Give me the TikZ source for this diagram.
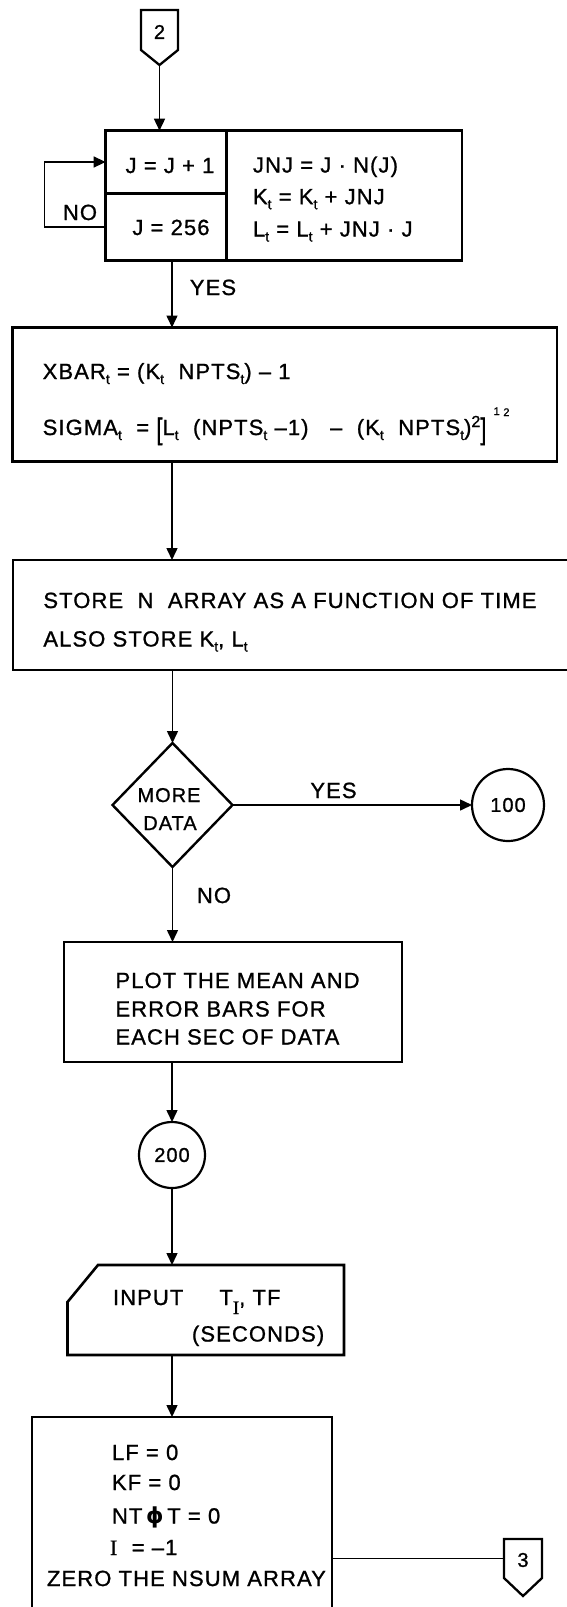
\documentclass[tikz,border=0pt]{standalone}
\usepackage{graphicx}
\usepackage{fontspec}
\setmainfont{Liberation Sans}[LetterSpace=5,FakeBold=1]
\newfontfamily\serifI{Liberation Serif}[FakeBold=1]
\newfontfamily\phifont{DejaVu Sans}
\usetikzlibrary{arrows.meta,shapes.geometric,calc}
\newcommand{\sbt}{\raisebox{-5pt}{\fontsize{14}{14}\selectfont t}}
\newcommand{\tallbr}[1]{\raisebox{-4pt}{\scalebox{1}[1.35]{#1}}}
\newcommand{\bigfs}{\fontsize{22}{26}\selectfont}
\newcommand{\midfs}{\fontsize{20}{24}\selectfont}
\begin{document}
\begin{tikzpicture}[x=1pt,y=-1pt,
  every node/.style={inner sep=0pt,outer sep=0pt},
  box/.style={draw,line width=2.6pt,rectangle},
  ghost/.style={rectangle},
  shapeline/.style={line width=2.3pt,line join=miter},
  conn/.style={line width=1.5pt},
  arr/.style={conn,-{Triangle[length=12pt,width=11pt]}},
  lbl/.style={anchor=base west,font=\bigfs},
  clbl/.style={anchor=base,font=\bigfs},
  dlbl/.style={anchor=base,font=\midfs},
  nlbl/.style={font=\midfs},
  ]
\useasboundingbox (0,0) rectangle (567,1607);
\clip (0,0) rectangle (567,1607);
\fill[white] (0,0) rectangle (567,1607);
\coordinate (ax) at (172,0);

% connector 2
\node[ghost,minimum width=37pt,minimum height=40pt] (c2) at (159.5,30) {};
\draw[shapeline] (c2.north west) -- (c2.north east) -- (c2.south east) -- ($(c2.south)+(0,15)$) coordinate (c2tip) -- (c2.south west) -- cycle;
\node[nlbl] (c2t) at (159.5,32) {2};

% top box
\node[box,minimum width=120.7pt,minimum height=62.6pt] (cellA) at (165.95,162) {};
\node[box,minimum width=120.7pt,minimum height=67.4pt] (cellB) at (165.95,227) {};
\node[box,minimum width=235.7pt,minimum height=130pt] (cellC) at (344.15,195.7) {};
\node[clbl] (tA) at (170,173) {J = J + 1};
\node[clbl] (tB) at (171,235) {J = 256};
\node[lbl] (tC1) at (253,172.5) {JNJ = J · N(J)};
\node[lbl] (tC2) at (253,204.2) {K\sbt{} = K\sbt{} + JNJ};
\node[lbl] (tC3) at (253,236.5) {L\sbt{} = L\sbt{} + JNJ · J};
\draw[arr] (c2tip) -- (c2tip |- cellA.north);
\draw[arr] (cellB.west) -- ++(-61,0) |- (cellA.west);
\node[clbl] (no1) at (80,220) {NO};

% box 2
\node[box,minimum width=544.5pt,minimum height=134pt] (box2) at (284.75,394.5) {};
\node[lbl] (x1) at (42.7,379) {XBAR\sbt{} = (K\sbt{}\ \ NPTS\sbt{}) – 1};
\node[lbl] (x2) at (42.7,435) {SIGMA\sbt{}\ \ = \tallbr{[}L\sbt{}\ \ (NPTS\sbt{} –1)\ \ \ –\ \ (K\sbt{}\ \ NPTS\sbt{})\raisebox{8pt}{\fontsize{16}{16}\selectfont 2}\tallbr{]}\ \raisebox{20pt}{\fontsize{11}{11}\selectfont 1\ \raisebox{-1pt}{2}}};
\draw[arr] (cellB.south -| ax) -- (box2.north -| ax);
\node[clbl] (yes1) at (213,295) {YES};

% box 3
\node[box,minimum width=567pt,minimum height=110pt] (box3) at (296.5,615) {};
\node[lbl] (s1) at (43.4,608) {STORE\ \ N\ \ ARRAY AS A FUNCTION OF TIME};
\node[lbl] (s2) at (43.4,646.5) {ALSO STORE K\sbt, L\sbt};
\draw[arr] (box2.south -| ax) -- (box3.north -| ax);

% decision
\node[draw,diamond,line width=2.4pt,minimum width=120pt,minimum height=124pt] (dia) at (172.5,805) {};
\node[dlbl] (d1) at (169,802) {MORE};
\node[dlbl] (d2) at (170,830) {DATA};
\draw[arr] (box3.south -| dia.north) -- (dia.north);
\node[draw,circle,line width=2.2pt,minimum size=72pt,font=\midfs] (c100) at (508,805) {100};
\draw[arr] (dia.east) -- (c100.west);
\node[clbl] (yes2) at (333.5,798) {YES};
\node[clbl] (no2) at (214,903) {NO};

% box 4
\node[box,minimum width=338pt,minimum height=120pt] (box4) at (233,1002) {};
\draw[arr] (dia.south) -- (box4.north -| dia.south);
\node[lbl] (p1) at (115.5,988) {PLOT THE MEAN AND};
\node[lbl] (p2) at (115.5,1016.5) {ERROR BARS FOR};
\node[lbl] (p3) at (115.5,1044.5) {EACH SEC OF DATA};

% connector 200
\node[draw,circle,line width=2.2pt,minimum size=66pt,font=\midfs] (c200) at (172,1155) {200};
\draw[arr] (box4.south -| c200.north) -- (c200.north);

% input
\node[ghost,minimum width=276.5pt,minimum height=90pt] (inp) at (205.75,1310) {};
\draw[box] ($(inp.north west)+(30.5,0)$) -- (inp.north east) -- (inp.south east) -- (inp.south west) -- ($(inp.north west)+(0,37)$) -- cycle;
\node[lbl] (i1) at (113,1305) {INPUT\ \ \ \ \ T\raisebox{-9pt}{\fontsize{19}{19}\serifI I}, TF};
\node[lbl] (i2) at (192,1341.5) {(SECONDS)};
\draw[arr] (c200.south) -- (inp.north -| c200.south);

% box 6
\node[box,minimum width=300pt,minimum height=223pt] (box6) at (182,1528.5) {};
\draw[arr] (inp.south -| ax) -- (box6.north -| ax);
\node[lbl] (z1) at (112,1460) {LF = 0};
\node[lbl] (z2) at (112,1490) {KF = 0};
\node[lbl] (z3) at (112,1523.5) {NT\,{\phifont\bfseries ϕ}\,T = 0};
\node[lbl] (z4) at (110,1555) {{\serifI I}\ \ = –1};
\node[lbl] (z5) at (47,1586) {ZERO THE NSUM ARRAY};

% connector 3
\node[ghost,minimum width=38pt,minimum height=39pt] (c3) at (523,1558.5) {};
\draw[shapeline] (c3.north west) -- (c3.north east) -- (c3.south east) -- ($(c3.south)+(0,18)$) -- (c3.south west) -- cycle;
\node[nlbl] (c3t) at (523,1560) {3};
\draw[conn] (box6.east |- c3.west) -- (c3.west);
\end{tikzpicture}
\end{document}
